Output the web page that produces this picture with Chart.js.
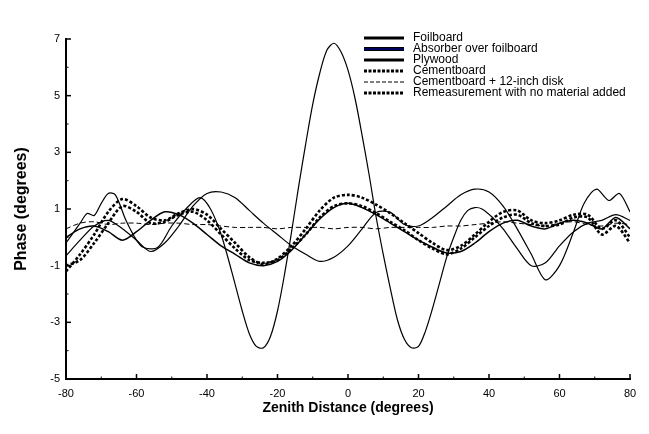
<!DOCTYPE html>
<html>
<head>
<meta charset="utf-8">
<script src="https://cdn.jsdelivr.net/npm/chart.js@4.4.0/dist/chart.umd.min.js"></script>
<style>
html, body { margin: 0; padding: 0; background: #fff; }
</style>
</head>
<body>
<canvas id="chart" width="649" height="434"></canvas>
<script>
// zenith distance (degrees) for most series
const zenith = [-80,-76,-72,-68,-64,-60,-56,-52,-48,-44,-40,-36,-32,-28,-24,-20,-16,-12,-8,-4,0,4,8,12,16,20,24,28,32,36,40,44,48,52,56,60,64,68,72,76,80]

// foilboard is sampled finer round the main lobe
const foilX = [-80,-76,-74,-72,-70,-68,-66,-63,-60,-58,-54,-50,-46,-42,-39,-36,-33,-30,-28,-26,-24,-22,-20,-18,-16,-14,-12,-10,-8,-6,-4,-2,0,2,4,6,8,10,12,14,16,18,20,22,24,26,28,30,32,34,36,38,41,44,48,52,56,60,64,68,72,76,80]
const foilY = [-0.2,0.5,0.84,0.77,1.2,1.55,1.5,0.6,-0.1,-0.36,-0.36,0.4,1.0,1.4,1.0,0.1,-1.2,-2.6,-3.4,-3.85,-3.9,-3.5,-2.6,-1.3,0.2,1.8,3.3,4.7,5.8,6.6,6.85,6.55,5.9,4.9,3.6,2.2,0.7,-0.6,-1.8,-2.9,-3.6,-3.9,-3.85,-3.3,-2.5,-1.6,-0.7,0.0,0.6,0.95,1.05,1.0,0.7,0.3,-0.4,-1.0,-0.9,-0.3,0.2,0.5,0.6,0.8,0.6]

// absorber has a few extra samples at the right end
const absorberX = [-80,-76,-72,-68,-64,-60,-56,-52,-48,-44,-40,-36,-32,-28,-24,-20,-16,-12,-8,-4,0,4,8,12,16,20,24,28,32,36,40,44,48,52,56,60,64,67,70.5,74,77,80]
const absorber = [-0.65,-0.1,0.4,0.6,0.3,-0.1,-0.5,-0.2,0.4,1.1,1.55,1.6,1.4,0.95,0.5,0.1,-0.3,-0.6,-0.85,-0.7,-0.3,0.3,0.88,0.88,0.45,0.4,0.7,1.1,1.5,1.7,1.6,1.1,0.3,-0.6,-1.5,-1.0,0.2,1.2,1.7,1.3,1.55,0.9]
const plywood = [0.0,0.3,0.4,0.2,-0.1,0.2,0.6,0.9,0.8,0.5,0.1,-0.3,-0.6,-0.9,-1.0,-0.85,-0.45,0.1,0.65,1.05,1.2,1.05,0.8,0.5,0.2,-0.1,-0.35,-0.55,-0.5,-0.2,0.2,0.5,0.6,0.4,0.3,0.5,0.6,0.5,0.3,0.7,0.3]
const cementboard = [-1.2,-0.6,0.1,0.9,1.35,1.1,0.7,0.6,0.85,1.0,0.8,0.3,-0.2,-0.7,-0.95,-0.75,-0.3,0.3,0.95,1.4,1.5,1.4,1.15,0.85,0.5,0.15,-0.2,-0.45,-0.3,0.1,0.55,0.9,0.95,0.6,0.5,0.6,0.8,0.8,0.3,0.6,0.0]
const cementDisk = [0.3,0.5,0.55,0.45,0.5,0.5,0.45,0.5,0.5,0.45,0.45,0.4,0.35,0.35,0.35,0.3,0.35,0.35,0.35,0.3,0.35,0.35,0.3,0.35,0.35,0.35,0.35,0.4,0.4,0.45,0.5,0.55,0.5,0.45,0.4,0.5,0.55,0.45,0.4,0.5,0.45]
const remeasure = [-1.0,-0.8,-0.2,0.5,1.1,0.9,0.5,0.55,0.8,0.9,0.6,0.1,-0.4,-0.8,-0.9,-0.8,-0.4,0.1,0.7,1.1,1.2,1.1,0.85,0.55,0.25,-0.1,-0.4,-0.6,-0.4,0.0,0.4,0.7,0.8,0.5,0.4,0.45,0.7,0.7,0.1,0.4,-0.2]

const seriesNames = ['Foilboard','Absorber over foilboard','Plywood','Cementboard','Cementboard + 12-inch disk','Remeasurement with no material added']

function toPoints(xs, ys) {
    return xs.map((x, i) => ({x: x, y: ys[i]}))
}

function lineSet(label, data, width, dash) {
    return {
        label: label,
        data: data,
        borderColor: '#000',
        borderWidth: width,
        borderDash: dash,
        pointRadius: 0,
        tension: 0.3,
        fill: false
    }
}

// legend looks: sample width, colour, dash
const legendLook = [
    {w: 3, color: '#000', dash: []},
    {w: 3, color: '#000080', dash: [], outline: true},
    {w: 3, color: '#000', dash: []},
    {w: 3, color: '#000', dash: [3, 1.5]},
    {w: 1, color: '#000', dash: [4, 2]},
    {w: 3, color: '#000', dash: [3, 1.5]}
]

const legendBox = {
    id: 'legendBox',
    afterDraw(chart) {
        const ctx = chart.ctx
        ctx.save()
        ctx.font = '12px "Liberation Sans", Arial, sans-serif'
        ctx.fillStyle = '#000'
        ctx.textBaseline = 'middle'
        seriesNames.forEach((name, i) => {
            const y = 38 + i * 11
            const look = legendLook[i]
            if (look.outline) {
                ctx.setLineDash([])
                ctx.strokeStyle = '#000'
                ctx.lineWidth = 4
                ctx.beginPath(); ctx.moveTo(364, y); ctx.lineTo(404, y); ctx.stroke()
                ctx.lineWidth = 1.5
            } else {
                ctx.lineWidth = look.w
            }
            ctx.strokeStyle = look.color
            ctx.setLineDash(look.dash)
            ctx.beginPath(); ctx.moveTo(364, y); ctx.lineTo(404, y); ctx.stroke()
            ctx.fillText(name, 413, y)
        })
        ctx.restore()
    }
}

// tick marks point into the plot, minor ones are shorter
const innerTicks = {
    id: 'innerTicks',
    afterDraw(chart) {
        const ctx = chart.ctx
        const xs = chart.scales.x
        const ys = chart.scales.y
        ctx.save()
        ctx.strokeStyle = '#000'
        ctx.setLineDash([])
        for (let v = -80; v <= 80; v += 10) {
            const px = xs.getPixelForValue(v)
            const len = v % 20 === 0 ? 5 : 2.5
            ctx.lineWidth = v % 20 === 0 ? 1.5 : 1
            ctx.beginPath(); ctx.moveTo(px, ys.bottom); ctx.lineTo(px, ys.bottom - len); ctx.stroke()
        }
        for (let v = -5; v <= 7; v += 1) {
            const py = ys.getPixelForValue(v)
            const len = Math.abs(v % 2) === 1 ? 5 : 2.5
            ctx.lineWidth = Math.abs(v % 2) === 1 ? 1.5 : 1
            ctx.beginPath(); ctx.moveTo(xs.left, py); ctx.lineTo(xs.left + len, py); ctx.stroke()
        }
        ctx.restore()
    }
}

Chart.defaults.font.family = '"Liberation Sans", Arial, sans-serif'
Chart.defaults.color = '#000'
Chart.defaults.plugins.legend.display = false
Chart.defaults.plugins.tooltip.enabled = false

const config = {
    type: 'line',
    data: {
        datasets: [
            lineSet(seriesNames[0], toPoints(foilX, foilY), 1.2, []),
            lineSet(seriesNames[1], toPoints(absorberX, absorber), 1.2, []),
            lineSet(seriesNames[2], toPoints(zenith, plywood), 1.5, []),
            lineSet(seriesNames[3], toPoints(zenith, cementboard), 2.6, [3, 2]),
            lineSet(seriesNames[4], toPoints(zenith, cementDisk), 1, [5, 3]),
            lineSet(seriesNames[5], toPoints(zenith, remeasure), 2.6, [3, 2])
        ]
    },
    options: {
        responsive: false,
        animation: false,
        layout: { padding: { top: 39, right: 19, left: 0, bottom: 0 } },
        scales: {
            x: {
                type: 'linear',
                min: -80,
                max: 80,
                afterFit(scale) { scale.height = 55 },
                grid: { display: false, drawTicks: false },
                border: { display: true, color: '#000', width: 2 },
                ticks: { stepSize: 20, padding: 8, font: { size: 11 }, maxRotation: 0 },
                title: { display: true, text: 'Zenith Distance (degrees)', font: { size: 14, weight: 'bold' }, padding: { top: 0, bottom: 17 } }
            },
            y: {
                min: -5,
                max: 7,
                afterFit(scale) { scale.width = 66 },
                grid: { display: false, drawTicks: false },
                border: { display: true, color: '#000', width: 2 },
                ticks: { stepSize: 2, padding: 6, font: { size: 11 } },
                title: { display: true, text: 'Phase (degrees)', font: { size: 16, weight: 'bold' }, padding: { top: 12, bottom: 0 } }
            }
        }
    },
    plugins: [innerTicks, legendBox]
}

const mychart = new Chart(document.getElementById('chart'), config)
</script>
</body>
</html>
